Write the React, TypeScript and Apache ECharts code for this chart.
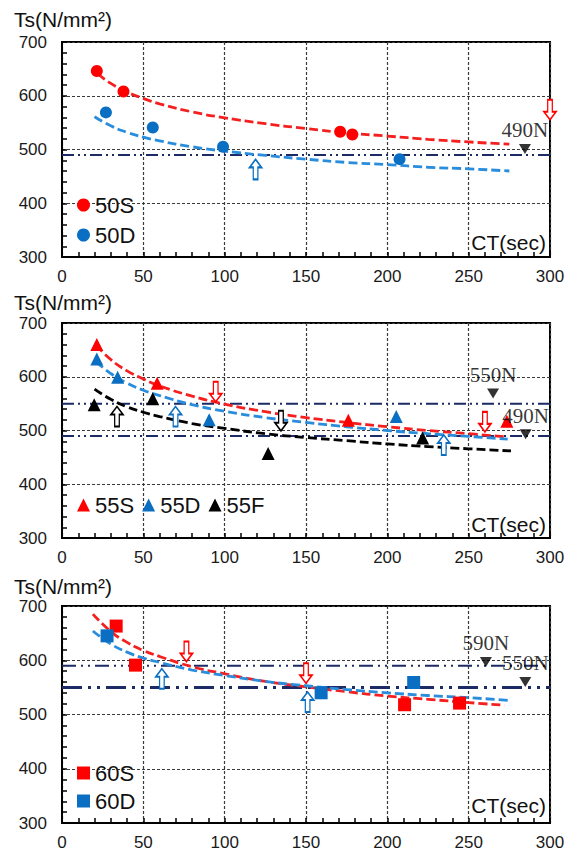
import React, { useEffect, useRef } from "react";
import * as echarts from "echarts";

// Axis ranges / ticks
const xTicks = [0, 50, 100, 150, 200, 250, 300];
const yTicks = [300, 400, 500, 600, 700];

// ---- Panel 1 (50) ----
const pts50S = [[21.4, 646], [37.8, 608], [171, 533], [178.5, 528]];
const pts50D = [[27, 569], [55.8, 541], [99, 505], [207.5, 482]];
const trend50S = [[22, 641], [30, 623], [40, 607], [50, 595], [60, 585], [80, 570], [100, 559], [125, 548], [150, 539], [175, 531], [200, 525], [225, 519], [250, 514], [275, 510]];
const trend50D = [[20, 561], [30, 544], [40, 532], [50, 523], [60, 516], [80, 505], [100, 497], [125, 489], [150, 482], [175, 476], [200, 472], [225, 467], [250, 464], [275, 460]];
const limits1 = [490];
const markNames1 = ["490N"];
const markPos1 = [[284.6, 501]];
const arrowsDown1 = [[300, 574]];
const arrowsUp1 = [[119, 463]];

// ---- Panel 2 (55) ----
const pts55S = [[21.4, 660], [58.5, 588], [176, 519], [273.5, 517]];
const pts55D = [[21.4, 633], [34.2, 599], [90.5, 520], [205.5, 526]];
const pts55F = [[19.8, 548], [55.8, 559], [126.7, 457], [221.7, 486]];
const trend55S = [[21, 659], [30, 632], [40, 611], [50, 596], [60, 583], [80, 564], [100, 549], [125, 535], [150, 524], [175, 515], [200, 507], [225, 500], [250, 494], [274, 488]];
const trend55D = [[21, 628], [30, 606], [40, 588], [50, 575], [60, 565], [80, 548], [100, 536], [125, 524], [150, 515], [175, 507], [200, 500], [225, 494], [250, 489], [274, 484]];
const trend55F = [[20, 577], [30, 558], [40, 544], [50, 534], [60, 526], [80, 513], [100, 504], [125, 494], [150, 487], [175, 481], [200, 475], [225, 470], [250, 466], [276, 462]];
const limits2 = [550, 490];
const markNames2 = ["550N", "490N"];
const markPos2 = [[265, 569], [285, 493]];
const arrowsDownRed2 = [[94.5, 572], [260, 516]];
const arrowsUpBlue2 = [[69.8, 526], [234.7, 473]];
const arrowsUpBlack2 = [[33.8, 526]];
const arrowsDownBlack2 = [[134.6, 518]];

// ---- Panel 3 (60) ----
const pts60S = [[33.3, 663], [45.2, 591], [210.6, 518], [244.4, 521]];
const pts60D = [[27.7, 645], [159.3, 540], [216.2, 559]];
const trend60S = [[19, 685], [30, 653], [40, 633], [50, 618], [60, 607], [80, 588], [100, 575], [125, 561], [150, 551], [175, 542], [200, 534], [225, 528], [250, 522], [272, 517]];
const trend60D = [[19, 654], [30, 630], [40, 615], [50, 604], [60, 596], [80, 582], [100, 572], [125, 561], [150, 553], [175, 546], [200, 540], [225, 535], [250, 531], [275, 526]];
const limits3 = [590, 550];
const markNames3 = ["590N", "550N"];
const markPos3 = [[260.6, 597], [284.8, 560]];
const arrowsDown3 = [[76.5, 616], [150, 576]];
const arrowsUp3 = [[61.4, 566], [151, 523]];

const RED = "#ff0000";
const BLUE = "#0a6fc2";
const RED_TREND = "#f42020";
const BLUE_TREND = "#2a8ddc";
const BLACK = "#000000";
const NAVY = "#1c2a66";

const SANS = "'Liberation Sans', Arial, sans-serif";
const SERIF = "'Liberation Serif', 'Times New Roman', serif";

const DOWN_ARROW = "path://M4,0L9,0L9,12L13,12L6.5,20L0,12L4,12Z";
const UP_ARROW = "path://M6.5,0L13,8L9,8L9,20L4,20L4,8L0,8Z";

const grids = [
  { left: 62, top: 42, width: 488, height: 215 },
  { left: 62, top: 323, width: 488, height: 215 },
  { left: 62, top: 606, width: 488, height: 217 },
];

function buildOption() {
  const xInterval = xTicks[1] - xTicks[0];
  const yInterval = yTicks[1] - yTicks[0];
  const common = {
    axisLine: { show: true, onZero: false, lineStyle: { color: "#000", width: 2 } },
    axisTick: { show: true, inside: true, length: 5, lineStyle: { color: "#000", width: 1.5 } },
    minorTick: { show: true, splitNumber: 5, length: 5, lineStyle: { color: "#000", width: 1.5 } },
    splitLine: { show: true, lineStyle: { color: "#3a3a3a", width: 1.2, type: [3, 2] } },
  };
  const xAxis = grids.map((_, i) => ({
    type: "value",
    gridIndex: i,
    min: xTicks[0],
    max: xTicks[xTicks.length - 1],
    interval: xInterval,
    ...common,
    axisLabel: { margin: 11, fontSize: 17, fontFamily: SANS, color: "#1a1a1a" },
  }));
  const yAxis = grids.map((_, i) => ({
    type: "value",
    gridIndex: i,
    min: yTicks[0],
    max: yTicks[yTicks.length - 1],
    interval: yInterval,
    ...common,
    axisLabel: { margin: 15, fontSize: 17, fontFamily: SANS, color: "#1a1a1a" },
  }));

  const series: any[] = [];
  const limitLine = (v: number, gi: number, width: number, dash: number[]) => {
    series.push({
      type: "line",
      xAxisIndex: gi,
      yAxisIndex: gi,
      data: [[xTicks[0], v], [xTicks[xTicks.length - 1], v]],
      showSymbol: false,
      symbol: "none",
      silent: true,
      lineStyle: { color: NAVY, width, type: dash },
      z: 2,
    });
  };
  const trend = (data: number[][], color: string, gi: number) => {
    series.push({
      type: "line",
      xAxisIndex: gi,
      yAxisIndex: gi,
      data,
      smooth: true,
      showSymbol: false,
      symbol: "none",
      silent: true,
      lineStyle: { color, width: 2.8, type: [9, 4] },
      z: 3,
    });
  };
  const scatter = (name: string, data: number[][], symbol: string, color: string, size: number, gi: number) => {
    series.push({
      type: "scatter",
      name,
      xAxisIndex: gi,
      yAxisIndex: gi,
      data,
      symbol,
      symbolSize: size,
      itemStyle: { color, opacity: 1 },
      z: 5,
    });
  };
  const arrows = (data: number[][], up: boolean, color: string, gi: number) => {
    series.push({
      type: "scatter",
      xAxisIndex: gi,
      yAxisIndex: gi,
      data,
      symbol: up ? UP_ARROW : DOWN_ARROW,
      symbolSize: [12, 20],
      silent: true,
      itemStyle: { color: "#ffffff", borderColor: color, borderWidth: 1.6, opacity: 1 },
      z: 6,
    });
  };
  const marks = (pos: number[][], names: string[], gi: number) => {
    series.push({
      type: "scatter",
      xAxisIndex: gi,
      yAxisIndex: gi,
      data: pos.map((p, i) => ({ name: names[i], value: p })),
      symbol: "triangle",
      symbolRotate: 180,
      symbolSize: [12, 10],
      silent: true,
      itemStyle: { color: "#000" },
      label: {
        show: true,
        position: "top",
        distance: 3,
        formatter: "{b}",
        fontFamily: SERIF,
        fontSize: 21,
        color: "#000",
      },
      z: 7,
    });
  };

  // Panel 1
  limits1.forEach((v) => limitLine(v, 0, 2, [12, 4, 2, 4, 2, 4]));
  trend(trend50S, RED_TREND, 0);
  trend(trend50D, BLUE_TREND, 0);
  scatter("50S", pts50S, "circle", RED, 12, 0);
  scatter("50D", pts50D, "circle", BLUE, 12, 0);
  arrows(arrowsDown1, false, RED, 0);
  arrows(arrowsUp1, true, BLUE, 0);
  marks(markPos1, markNames1, 0);

  // Panel 2
  limits2.forEach((v) => limitLine(v, 1, 2, [12, 4, 2, 4, 2, 4]));
  trend(trend55S, RED_TREND, 1);
  trend(trend55D, BLUE_TREND, 1);
  trend(trend55F, BLACK, 1);
  scatter("55S", pts55S, "triangle", RED, 13, 1);
  scatter("55D", pts55D, "triangle", BLUE, 13, 1);
  scatter("55F", pts55F, "triangle", BLACK, 13, 1);
  arrows(arrowsDownRed2, false, RED, 1);
  arrows(arrowsUpBlue2, true, BLUE, 1);
  arrows(arrowsUpBlack2, true, BLACK, 1);
  arrows(arrowsDownBlack2, false, BLACK, 1);
  marks(markPos2, markNames2, 1);

  // Panel 3
  limitLine(limits3[0], 2, 2, [14, 5, 2, 5, 2, 5]);
  limitLine(limits3[1], 2, 3, [20, 6, 3, 6, 3, 6]);
  trend(trend60S, RED_TREND, 2);
  trend(trend60D, BLUE_TREND, 2);
  scatter("60S", pts60S, "rect", RED, 13, 2);
  scatter("60D", pts60D, "rect", BLUE, 13, 2);
  arrows(arrowsDown3, false, RED, 2);
  arrows(arrowsUp3, true, BLUE, 2);
  marks(markPos3, markNames3, 2);

  const legendText = { fontFamily: SANS, fontSize: 22, color: "#111" };
  const legendBase = { itemWidth: 13, itemHeight: 13, textStyle: legendText, selectedMode: false };
  const legend = [
    { ...legendBase, data: ["50S", "50D"], orient: "vertical", left: 72, top: 189, itemGap: 8 },
    { ...legendBase, data: ["55S", "55D", "55F"], orient: "horizontal", left: 72, top: 489, itemGap: 8 },
    { ...legendBase, data: ["60S", "60D"], orient: "vertical", left: 72, top: 757, itemGap: 6 },
  ];

  const titleY = [19, 302, 586];
  const ctY = [242, 524, 805];
  const graphic: any[] = [];
  titleY.forEach((y) => {
    graphic.push({
      type: "text",
      x: 14,
      y,
      style: { text: "Ts(N/mm²)", fontFamily: SANS, fontSize: 21, fill: "#111", textVerticalAlign: "middle", textAlign: "left" },
    });
  });
  ctY.forEach((y) => {
    graphic.push({
      type: "text",
      x: 546,
      y,
      z: 10,
      style: { text: "CT(sec)", fontFamily: SANS, fontSize: 21, fill: "#111", textVerticalAlign: "middle", textAlign: "right" },
    });
  });

  return {
    animation: false,
    backgroundColor: "#ffffff",
    grid: grids.map((g) => ({ ...g, show: true, borderColor: "#000", borderWidth: 2, backgroundColor: "transparent" })),
    xAxis,
    yAxis,
    legend,
    series,
    graphic,
  };
}

export default function App() {
  const ref = useRef<HTMLDivElement>(null);
  useEffect(() => {
    if (!ref.current) return;
    const chart = echarts.init(ref.current, undefined, { renderer: "svg" });
    chart.setOption(buildOption() as any);
    return () => chart.dispose();
  }, []);
  return (
    <div
      ref={ref}
      style={{ position: "absolute", left: 0, top: 0, width: 575, height: 854, background: "#fff" }}
    />
  );
}
